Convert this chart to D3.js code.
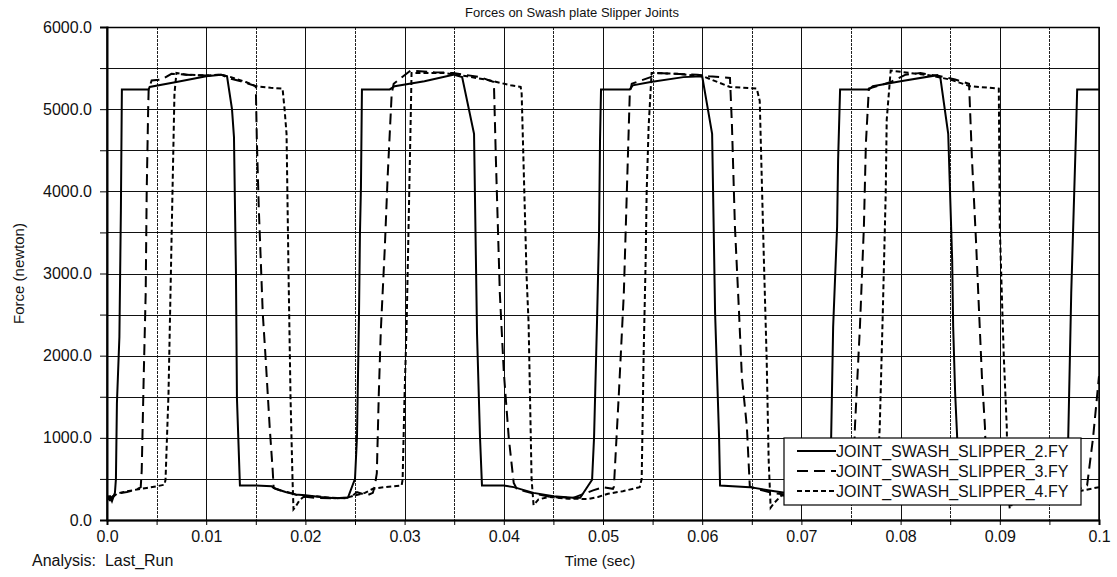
<!DOCTYPE html>
<html>
<head>
<meta charset="utf-8">
<script src="https://cdn.jsdelivr.net/npm/d3@7"></script>
<style>
  body { margin: 0; background: #fff; }
  text { font-family: "Liberation Sans", Arial, sans-serif; fill: #111; }
</style>
</head>
<body>
<svg id="chart" width="1117" height="577"></svg>
<script>
// time (sec), force (newton)
var slipper2 = [
  [0.0000,280],[0.0003,290],[0.0005,230],[0.0007,300],[0.0008,330],[0.0009,500],[0.0010,1420],[0.00125,2230],[0.0014,3770],[0.0015,5240],
  [0.0042,5240],[0.0043,5270],[0.0070,5330],[0.0100,5400],[0.0115,5420],[0.0121,5400],[0.0126,5000],[0.0128,4660],[0.0130,3000],[0.0131,1480],[0.0134,420],
  [0.0150,420],[0.0166,410],[0.0170,380],[0.0180,340],[0.0190,310],[0.0200,300],[0.0215,280],[0.0230,265],[0.0243,275],
  [0.0250,500],[0.0252,1010],[0.0254,2470],[0.0255,3490],[0.0256,4050],[0.0257,5240],
  [0.0285,5240],[0.0290,5280],[0.0320,5340],[0.0349,5420],[0.0358,5390],[0.0370,4700],[0.0373,2270],[0.0376,1010],[0.0378,420],
  [0.0400,420],[0.0410,400],[0.0430,330],[0.0450,290],[0.0470,270],[0.0477,270],
  [0.0489,490],[0.0491,1010],[0.0494,2430],[0.0496,3490],[0.0497,4620],[0.0498,5240],
  [0.0527,5240],[0.0530,5290],[0.0548,5330],[0.0581,5390],[0.0600,5400],[0.0610,4700],[0.0613,2520],[0.0617,1010],[0.0618,420],
  [0.0648,400],[0.0668,360],[0.0690,320],[0.0710,290],[0.0725,270],
  [0.0728,500],[0.0730,1010],[0.0732,2350],[0.0736,3570],[0.0737,4380],[0.0739,5240],
  [0.0768,5240],[0.0772,5280],[0.0800,5340],[0.0837,5414],[0.0840,5390],[0.0848,4700],[0.0852,3160],[0.0853,2350],[0.0855,1540],[0.0857,1010],[0.0858,420],
  [0.0880,410],[0.0900,370],[0.0930,300],[0.0955,270],[0.0966,290],
  [0.0968,500],[0.0969,1010],[0.0972,2760],[0.0975,3980],[0.0977,4790],[0.0978,5240],[0.1000,5240]
];

var slipper3 = [
  [0.0000,300],[0.0003,260],[0.0006,290],[0.0010,320],[0.0020,340],[0.0030,370],[0.0034,400],
  [0.0035,600],[0.0037,1740],[0.0039,2760],[0.0040,3980],[0.00415,5000],[0.0042,5240],
  [0.0045,5350],[0.0055,5360],[0.0065,5430],[0.0080,5420],[0.0100,5410],[0.0115,5420],[0.0125,5370],[0.0135,5340],[0.0145,5300],[0.0150,5280],
  [0.0151,4650],[0.0153,3800],[0.0155,3160],[0.0157,2520],[0.0160,1950],[0.0164,1130],[0.0167,610],[0.0168,390],
  [0.0175,360],[0.0185,330],[0.0195,290],[0.0210,270],[0.0230,265],[0.0245,270],[0.0252,340],[0.0262,300],[0.0268,330],[0.0270,420],
  [0.0272,570],[0.0274,1540],[0.0276,2300],[0.0280,3300],[0.0283,4200],[0.0287,5190],
  [0.0289,5310],[0.0306,5470],[0.0330,5450],[0.0349,5440],[0.0376,5390],[0.0390,5330],
  [0.0392,4400],[0.0396,2760],[0.0400,1800],[0.0405,1000],[0.0410,450],[0.0413,380],
  [0.0427,330],[0.0447,280],[0.0470,270],[0.0490,360],[0.0500,400],[0.0510,380],
  [0.0511,405],[0.0516,1540],[0.0521,2760],[0.0524,3980],[0.0527,5190],
  [0.0529,5310],[0.0548,5390],[0.0554,5440],[0.0595,5420],[0.0607,5400],[0.0628,5380],
  [0.0630,4800],[0.0633,3570],[0.0637,2560],[0.0640,1740],[0.0645,1140],[0.0648,405],
  [0.0655,380],[0.0670,330],[0.0700,290],[0.0720,280],[0.0740,300],[0.0750,360],[0.0752,420],
  [0.0754,1140],[0.0759,2350],[0.0763,3570],[0.0765,4580],[0.0768,5250],
  [0.0790,5330],[0.0805,5420],[0.0820,5440],[0.0840,5400],[0.0855,5360],[0.0869,5310],
  [0.0872,4380],[0.0876,3400],[0.0879,2560],[0.0882,1740],[0.0885,1140],[0.0887,420],
  [0.0900,370],[0.0930,300],[0.0960,290],[0.0980,380],[0.0988,420],[0.0994,1000],[0.1000,1750]
];

var slipper4 = [
  [0.0000,270],[0.0003,240],[0.0006,280],[0.0010,320],[0.0020,350],[0.0030,370],[0.0040,390],[0.0050,410],[0.0058,430],
  [0.0059,490],[0.0062,1540],[0.0064,2760],[0.0066,3980],[0.0068,5190],[0.0070,5440],
  [0.0080,5420],[0.0100,5410],[0.0115,5420],[0.0125,5390],[0.0140,5330],[0.0150,5280],[0.0165,5260],[0.0177,5250],
  [0.0179,5000],[0.0181,4700],[0.0183,3000],[0.0185,1500],[0.0187,500],[0.0188,130],
  [0.0190,160],[0.0194,240],[0.0198,280],[0.0210,290],[0.0225,270],[0.0240,265],[0.0250,300],[0.0260,330],[0.0268,380],[0.0280,400],[0.0297,420],
  [0.0298,490],[0.0300,1540],[0.0302,2350],[0.0304,3570],[0.0306,4790],[0.0307,5440],
  [0.0340,5440],[0.0363,5400],[0.0386,5350],[0.0407,5290],[0.0417,5270],
  [0.0418,5190],[0.0420,4300],[0.0423,2960],[0.0425,2390],[0.0427,1140],[0.0428,500],[0.0430,180],
  [0.0435,250],[0.0445,280],[0.0465,260],[0.0485,255],[0.0495,280],[0.0505,320],[0.0520,350],[0.0537,400],
  [0.0539,500],[0.0541,2030],[0.0543,3160],[0.0544,3980],[0.0546,4790],[0.0549,5440],
  [0.0575,5430],[0.0601,5400],[0.0628,5270],[0.0655,5250],
  [0.0658,5100],[0.0662,3250],[0.0665,1950],[0.0667,730],[0.0669,150],
  [0.0672,200],[0.0680,300],[0.0700,280],[0.0720,270],[0.0740,290],[0.0760,350],[0.0776,400],
  [0.0779,1140],[0.0782,2500],[0.0785,3980],[0.0786,4870],[0.0790,5470],
  [0.0810,5440],[0.0830,5410],[0.0850,5360],[0.0870,5280],[0.0899,5250],
  [0.0900,3570],[0.0902,2760],[0.0904,2000],[0.0907,1140],[0.0908,450],[0.0910,140],
  [0.0915,250],[0.0930,280],[0.0950,300],[0.0980,350],[0.1000,400]
];

var seriesNames = ["JOINT_SWASH_SLIPPER_2.FY", "JOINT_SWASH_SLIPPER_3.FY", "JOINT_SWASH_SLIPPER_4.FY"];
var seriesDash = ["none", "11,6", "5,3"];

var xTicks = [0, 0.005, 0.01, 0.015, 0.02, 0.025, 0.03, 0.035, 0.04, 0.045, 0.05, 0.055, 0.06, 0.065, 0.07, 0.075, 0.08, 0.085, 0.09, 0.095, 0.1];
var xTickLabels = {"0": "0.0", "0.01": "0.01", "0.02": "0.02", "0.03": "0.03", "0.04": "0.04", "0.05": "0.05",
                   "0.06": "0.06", "0.07": "0.07", "0.08": "0.08", "0.09": "0.09", "0.1": "0.1"};
var yTicks = [0, 500, 1000, 1500, 2000, 2500, 3000, 3500, 4000, 4500, 5000, 5500, 6000];
var yTickLabels = {"0": "0.0", "1000": "1000.0", "2000": "2000.0", "3000": "3000.0", "4000": "4000.0", "5000": "5000.0", "6000": "6000.0"};

var margin = {left: 107, top: 27, right: 18, bottom: 57};
var W = 1117, H = 577;
var w = W - margin.left - margin.right;
var h = H - margin.top - margin.bottom;

var svg = d3.select("#chart");
var g = svg.append("g").attr("transform", "translate(" + margin.left + "," + margin.top + ")");

var x = d3.scaleLinear().domain([0, 0.1]).range([0, w]);
var y = d3.scaleLinear().domain([0, 6000]).range([h, 0]);

// grid
var isMajorX = function(d) { return xTickLabels[String(+d.toFixed(3))] !== undefined; };
g.append("g").selectAll("line").data(xTicks).enter().append("line")
  .attr("x1", function(d) { return Math.round(x(d)) + 0.5; })
  .attr("x2", function(d) { return Math.round(x(d)) + 0.5; })
  .attr("y1", 0).attr("y2", h)
  .attr("stroke", function(d) { return isMajorX(d) ? "#111" : "#222"; })
  .attr("stroke-dasharray", function(d) { return isMajorX(d) ? null : "3,1"; })
  .attr("stroke-width", 1);

g.append("g").selectAll("line").data(yTicks).enter().append("line")
  .attr("x1", 0).attr("x2", w)
  .attr("y1", function(d) { return Math.round(y(d)) + 0.5; })
  .attr("y2", function(d) { return Math.round(y(d)) + 0.5; })
  .attr("stroke", "#111")
  .attr("stroke-width", 1);

// axes
var xaxis = d3.axisBottom(x).tickValues(xTicks).tickSize(5).tickPadding(6)
  .tickFormat(function(d) { var l = xTickLabels[String(+d.toFixed(3))]; return l === undefined ? "" : l; });
var yaxis = d3.axisLeft(y).tickValues(yTicks).tickSize(7).tickPadding(8)
  .tickFormat(function(d) { var l = yTickLabels[String(d)]; return l === undefined ? "" : l; });

var gx = g.append("g").attr("transform", "translate(0," + h + ")").call(xaxis);
var gy = g.append("g").call(yaxis);
[gx, gy].forEach(function(a) {
  a.select(".domain").attr("stroke", "#000").attr("stroke-width", 2);
  a.selectAll(".tick line").attr("stroke", "#000");
  a.selectAll(".tick text").style("font-size", "16px").attr("fill", "#111")
    .style("font-family", "'Liberation Sans', Arial, sans-serif");
});

// frame right/top
g.append("rect").attr("x", 0).attr("y", 0.5).attr("width", w).attr("height", h)
  .attr("fill", "none").attr("stroke", "#000").attr("stroke-width", 1.5);

// curves
g.append("clipPath").attr("id", "clip").append("rect").attr("width", w).attr("height", h);
var line = d3.line().x(function(d) { return x(d[0]); }).y(function(d) { return y(d[1]); });
var data = [slipper2, slipper3, slipper4];
g.append("g").attr("clip-path", "url(#clip)").selectAll("path").data(data).enter().append("path")
  .attr("d", line)
  .attr("fill", "none")
  .attr("stroke", "#000")
  .attr("stroke-width", 2)
  .attr("stroke-dasharray", function(d, i) { return seriesDash[i] === "none" ? null : seriesDash[i]; });

// legend
var lg = svg.append("g").attr("transform", "translate(784,438)");
lg.append("rect").attr("width", 297).attr("height", 67)
  .attr("fill", "#fff").attr("stroke", "#000").attr("stroke-width", 1.2);
seriesNames.forEach(function(name, i) {
  var ly = 13 + i * 20;
  lg.append("line").attr("x1", 13).attr("x2", 52).attr("y1", ly).attr("y2", ly)
    .attr("stroke", "#000").attr("stroke-width", 2)
    .attr("stroke-dasharray", seriesDash[i] === "none" ? null : seriesDash[i]);
  lg.append("text").attr("x", 52).attr("y", ly + 6).style("font-size", "16px").text(name);
});

// titles
svg.append("text").attr("x", 572).attr("y", 17).attr("text-anchor", "middle")
  .style("font-size", "13px").text("Forces on Swash plate Slipper Joints");
svg.append("text").attr("transform", "translate(24," + (margin.top + h / 2) + ")rotate(-90)")
  .attr("text-anchor", "middle").style("font-size", "15px").text("Force (newton)");
svg.append("text").attr("x", 600).attr("y", 566).attr("text-anchor", "middle")
  .style("font-size", "15px").text("Time (sec)");
svg.append("text").attr("x", 32).attr("y", 566)
  .style("font-size", "16px").style("white-space", "pre").text("Analysis:  Last_Run");
</script>
</body>
</html>
